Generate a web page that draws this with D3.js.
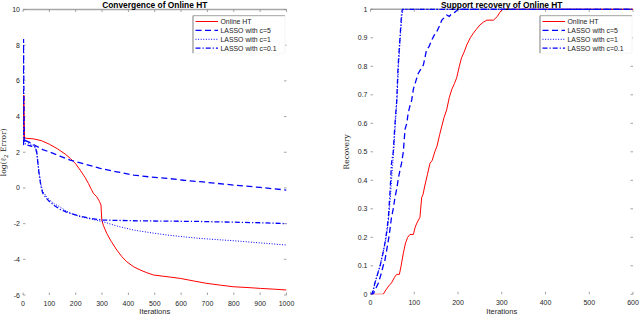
<!DOCTYPE html>
<html><head><meta charset="utf-8">
<script src="https://cdn.jsdelivr.net/npm/d3@7"></script>
<style>body{margin:0;background:#fff}svg{display:block}text{font-family:"Liberation Sans",Arial,sans-serif}</style>
</head><body><svg id="c" width="640" height="316"></svg>
<script>
// ---- data ----
const seriesNames = ["Online HT","LASSO with c=5","LASSO with c=1","LASSO with c=0.1"];
const leftTitle = "Convergence of Online HT";
const rightTitle = "Support recovery of Online HT";
const leftXTicks = [0,100,200,300,400,500,600,700,800,900,1000];
const leftYTicks = [-6,-4,-2,0,2,4,6,8,10];
const rightXTicks = [0,100,200,300,400,500,600];
const rightYTicks = [0,0.1,0.2,0.3,0.4,0.5,0.6,0.7,0.8,0.9,1];

const convHT = [[0,2.4],[3,5.2],[6,2.8],[15,2.78],[40,2.75],[70,2.65],[100,2.45],[130,2.2],[160,1.9],[180,1.65],[200,1.35],[217,1.0],[235,0.6],[248,0.26],[260,-0.1],[267,-0.3],[280,-0.5],[290,-0.75],[296,-0.96],[299,-1.8],[305,-2.1],[318,-2.55],[335,-3.0],[356,-3.48],[375,-3.85],[394,-4.14],[420,-4.42],[445,-4.6],[470,-4.75],[495,-4.88],[550,-4.98],[597,-5.07],[650,-5.22],[698,-5.35],[750,-5.45],[800,-5.54],[850,-5.58],[901,-5.63],[950,-5.67],[1000,-5.72]];
const convC5 = [[0,2.4],[5,2.8],[10,2.65],[25,2.55],[50,2.35],[75,2.15],[103,2.0],[140,1.78],[179,1.56],[230,1.35],[293,1.1],[350,0.92],[420,0.72],[480,0.62],[547,0.54],[610,0.43],[673,0.35],[740,0.25],[800,0.16],[900,0.03],[1000,-0.12]];
const convC1 = [[0,2.4],[5,2.7],[15,2.55],[30,2.45],[45,2.35],[52,2.1],[60,1.0],[68,0.2],[75,-0.2],[90,-0.5],[103,-0.7],[120,-0.9],[141,-1.07],[165,-1.3],[185,-1.45],[220,-1.62],[260,-1.75],[305,-1.9],[360,-2.15],[420,-2.36],[480,-2.5],[547,-2.64],[610,-2.74],[673,-2.83],[740,-2.9],[800,-2.96],[900,-3.08],[1000,-3.2]];
const convC01 = [[0,2.4],[2,8.35],[5,2.5],[15,2.4],[30,2.35],[45,2.3],[52,2.0],[60,0.9],[68,0.1],[75,-0.3],[90,-0.6],[103,-0.8],[120,-1.0],[141,-1.2],[165,-1.35],[185,-1.45],[220,-1.6],[260,-1.72],[305,-1.8],[360,-1.82],[420,-1.84],[480,-1.85],[547,-1.86],[673,-1.88],[800,-1.92],[900,-1.95],[1000,-2.0]];

const recHT = [[0,0],[29,0],[35,0.015],[42,0.03],[48,0.04],[55,0.06],[60,0.07],[66,0.07],[70,0.1],[75,0.144],[80,0.18],[85,0.2],[90,0.21],[98,0.21],[102,0.235],[106,0.25],[113,0.27],[117,0.34],[120,0.35],[124,0.38],[130,0.42],[136,0.46],[141,0.47],[147,0.5],[152,0.52],[158,0.56],[163,0.59],[168,0.62],[174,0.647],[180,0.69],[186,0.72],[192,0.74],[197,0.76],[203,0.8],[208,0.83],[214,0.85],[220,0.875],[228,0.9],[235,0.916],[242,0.93],[250,0.945],[258,0.955],[266,0.962],[281,0.962],[290,0.975],[296,0.99],[302,1.0],[600,1.0]];
const recC5 = [[0,0],[6,0],[12,0.02],[18,0.04],[24,0.07],[29,0.1],[33,0.12],[37,0.155],[43,0.21],[48,0.27],[52,0.3],[56,0.34],[60,0.37],[64,0.41],[68,0.44],[71,0.46],[75,0.5],[79,0.58],[83,0.6],[86,0.635],[90,0.66],[94,0.68],[98,0.72],[102,0.74],[109,0.775],[115,0.79],[121,0.805],[128,0.857],[134,0.87],[140,0.892],[146,0.91],[151,0.92],[157,0.94],[163,0.962],[168,0.97],[174,0.98],[180,0.975],[186,0.985],[193,0.99],[200,1.0],[600,1.0]];
const recC1 = [[0,0],[5,0],[9,0.03],[14,0.06],[20,0.09],[26,0.13],[32,0.17],[37,0.21],[41,0.26],[45,0.33],[49,0.42],[53,0.5],[57,0.6],[61,0.7],[64,0.8],[68,0.9],[72,0.98],[75,1],[600,1]];
const recC01 = [[0,0],[3,0],[7,0.02],[10,0.04],[16,0.07],[22,0.1],[28,0.14],[33,0.18],[37,0.22],[41,0.27],[45,0.37],[48,0.46],[52,0.5],[56,0.6],[60,0.68],[63,0.8],[67,0.89],[71,0.986],[73,1.0],[600,1.0]];

const styles = [
  {color:"#ff0000", dash:null, width:1},
  {color:"#0000ff", dash:"6,3.5", width:1.3},
  {color:"#0000ff", dash:"1,1.6", width:1},
  {color:"#0000ff", dash:"5,2,1.2,2", width:1.3}
];

const svg = d3.select("#c");

function panel(opt){
  const x = d3.scaleLinear().domain(opt.xDomain).range(opt.xRange);
  const y = d3.scaleLinear().domain(opt.yDomain).range(opt.yRange);
  const g = svg.append("g");
  const [x0,x1] = opt.xRange, [y1,y0] = opt.yRange;
  const id = "clip"+opt.key;
  svg.append("defs").append("clipPath").attr("id",id).append("rect")
    .attr("x",x0).attr("y",y0-2).attr("width",x1-x0).attr("height",y1-y0+2);

  g.append("line").attr("x1",x0).attr("x2",x1).attr("y1",y0).attr("y2",y0)
    .attr("stroke","#a6a6a6").attr("stroke-width",1.5);

  const tk = 2.5, tc="#8c8c8c";
  opt.xTicks.forEach(t=>{
    g.append("line").attr("x1",x(t)).attr("x2",x(t)).attr("y1",y0).attr("y2",y0+tk).attr("stroke",tc).attr("stroke-width",0.8);
    g.append("line").attr("x1",x(t)).attr("x2",x(t)).attr("y1",y1).attr("y2",y1-tk).attr("stroke",tc).attr("stroke-width",0.8);
    g.append("text").attr("x",x(t)).attr("y",y1+11).attr("text-anchor","middle")
      .attr("font-size",7).attr("fill","#262626").text(opt.xFmt(t));
  });
  opt.yTicks.forEach(t=>{
    g.append("line").attr("x1",x0).attr("x2",x0+tk).attr("y1",y(t)).attr("y2",y(t)).attr("stroke",tc).attr("stroke-width",0.8);
    g.append("line").attr("x1",x1).attr("x2",x1-tk).attr("y1",y(t)).attr("y2",y(t)).attr("stroke",tc).attr("stroke-width",0.8);
    g.append("text").attr("x",x0-3).attr("y",y(t)+2.5).attr("text-anchor","end")
      .attr("font-size",7).attr("fill","#262626").text(opt.yFmt(t));
  });

  const line = d3.line().x(d=>x(d[0])).y(d=>y(d[1]));
  const lg = g.append("g").attr("clip-path",`url(#${id})`);
  opt.series.forEach((s,i)=>{
    const st = styles[i];
    lg.append("path").datum(s).attr("d",line).attr("fill","none")
      .attr("stroke",st.color).attr("stroke-width",st.width)
      .attr("stroke-dasharray",st.dash);
  });

  g.append("text").attr("x",(x0+x1)/2).attr("y",7.5).attr("text-anchor","middle")
    .attr("font-size",8.4).attr("font-weight","bold").attr("fill","#000").text(opt.title);
  g.append("text").attr("x",(x0+x1)/2).attr("y",314).attr("text-anchor","middle")
    .attr("font-size",7.5).attr("fill","#262626").text("Iterations");
  const yl = g.append("text").attr("transform",`translate(${opt.yLabelX},${(y0+y1)/2}) rotate(-90)`)
    .attr("text-anchor","middle").attr("font-size",7.5).attr("fill","#262626")
    .style("font-family","'DejaVu Serif','Liberation Serif',serif");
  opt.yLabel(yl);

  const lx = opt.legendX, ly = 15.7, lw = opt.legendW, lh = 37.5;
  const leg = g.append("g");
  leg.append("rect").attr("x",lx).attr("y",ly).attr("width",lw).attr("height",lh).attr("fill","#fff").attr("stroke","none");
  leg.append("line").attr("x1",lx).attr("x2",lx+lw).attr("y1",ly).attr("y2",ly).attr("stroke","#999").attr("stroke-width",0.9);
  leg.append("line").attr("x1",lx).attr("x2",lx).attr("y1",ly).attr("y2",ly+lh).attr("stroke","#888").attr("stroke-width",1.1);
  leg.append("line").attr("x1",lx+lw).attr("x2",lx+lw).attr("y1",ly).attr("y2",ly+lh).attr("stroke","#eee").attr("stroke-width",0.6);
  leg.append("line").attr("x1",lx).attr("x2",lx+lw).attr("y1",ly+lh).attr("y2",ly+lh).attr("stroke","#eee").attr("stroke-width",0.6);
  seriesNames.forEach((n,i)=>{
    const yy = ly + 5.8 + i*8.9;
    const st = styles[i];
    leg.append("line").attr("x1",lx+2.5).attr("x2",lx+25).attr("y1",yy).attr("y2",yy)
      .attr("stroke",st.color).attr("stroke-width",st.width).attr("stroke-dasharray",st.dash);
    leg.append("text").attr("x",lx+27.5).attr("y",yy+2.4).attr("font-size",6.9).attr("fill","#1a1a1a").text(n);
  });
}

panel({key:"L", xDomain:[0,1000], xRange:[23,286.5], yDomain:[-6,10], yRange:[295,9.5],
  xTicks:leftXTicks, yTicks:leftYTicks, xFmt:d=>d, yFmt:d=>d,
  series:[convHT,convC5,convC1,convC01], title:leftTitle, yLabelX:6,
  yLabel:t=>{ t.append("tspan").text("log(ℓ"); t.append("tspan").attr("font-size",5.5).attr("dy",1.8).text("2"); t.append("tspan").attr("dy",-1.8).text(" Error)"); },
  legendX:193, legendW:92});

panel({key:"R", xDomain:[0,600], xRange:[370.5,633], yDomain:[0,1], yRange:[294.3,9.3],
  xTicks:rightXTicks, yTicks:rightYTicks, xFmt:d=>d, yFmt:d=>d===0||d===1?d:d3.format(".1f")(d),
  series:[recHT,recC5,recC1,recC01], title:rightTitle, yLabelX:349,
  yLabel:t=>{ t.text("Recovery"); },
  legendX:540, legendW:92});
</script></body></html>
